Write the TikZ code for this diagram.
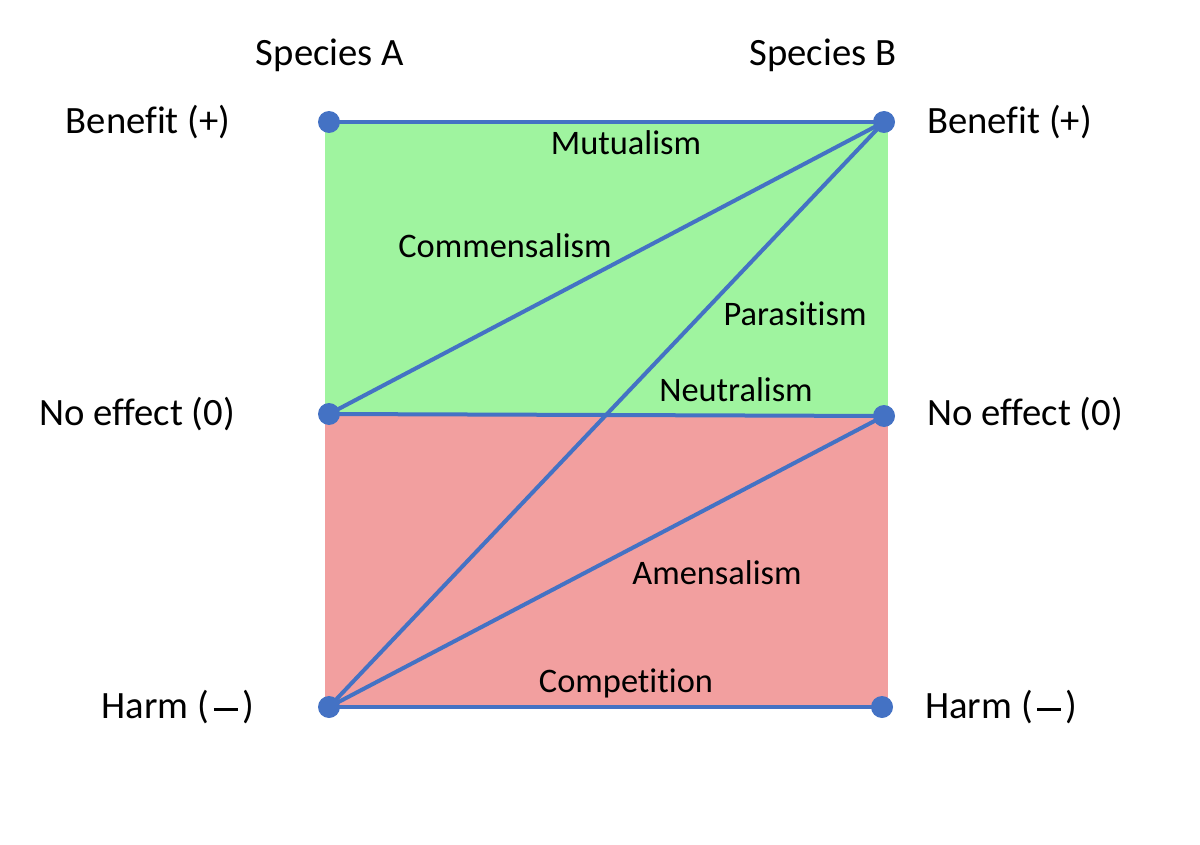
\documentclass[tikz,border=0pt]{standalone}
\usepackage{fontspec}
\setmainfont{Carlito}[Ligatures=NoCommon]
\definecolor{lgreen}{HTML}{9FF49F}
\definecolor{lred}{HTML}{F29F9F}
\definecolor{lblue}{HTML}{4472C4}
\newcommand{\harmdash}{\kern0.12em\rule[0.2em]{0.62em}{0.075em}\kern0.12em}
\begin{document}
\begin{tikzpicture}[x=0.75pt,y=-0.75pt,
  dot/.style={circle,fill=lblue,inner sep=0pt,minimum size=16.5pt},
  link/.style={draw=lblue,line width=3pt},
  axis/.style={font=\fontsize{29}{34}\selectfont,inner sep=0pt},
  rel/.style={font=\fontsize{25.8}{30}\selectfont,inner sep=0pt}]
\useasboundingbox (0,0) rectangle (1200,845);
\fill[lgreen] (325,122) rectangle (888,415);
\fill[lred] (325,415) rectangle (888,707);
\node[dot] (ap) at (329,122) {};
\node[dot] (a0) at (329,414) {};
\node[dot] (am) at (329,707) {};
\node[dot] (bp) at (884,122) {};
\node[dot] (b0) at (884,416) {};
\node[dot] (bm) at (882,707) {};
\draw[link] (ap.center) -- (bp.center);
\draw[link] (a0.center) -- (b0.center);
\draw[link] (a0.center) -- (bp.center);
\draw[link] (am.center) -- (bp.center);
\draw[link] (am.center) -- (b0.center);
\draw[link] (am.center) -- (bm.center);
\node[axis] (sa) at (330,55) {Species A};
\node[axis] (sb) at (823,55) {Species B};
\node[axis] (lap) at (148,122) {Benefit (+)};
\node[axis] (la0) at (137,414) {No effect (0)};
\node[axis] (lam) at (178,707) {Harm (\harmdash)};
\node[axis,anchor=west] (lbp) at (927,122) {Benefit (+)};
\node[axis,anchor=west] (lb0) at (927,414) {No effect (0)};
\node[axis,anchor=west] (lbm) at (925,707) {Harm (\harmdash)};
\node[rel] (mu) at (626,143) {Mutualism};
\node[rel] (co) at (505,246) {Commensalism};
\node[rel] (pa) at (795,314) {Parasitism};
\node[rel] (ne) at (736,390) {Neutralism};
\node[rel] (am2) at (717,573) {Amensalism};
\node[rel] (cp) at (626,683) {Competition};
\end{tikzpicture}
\end{document}
